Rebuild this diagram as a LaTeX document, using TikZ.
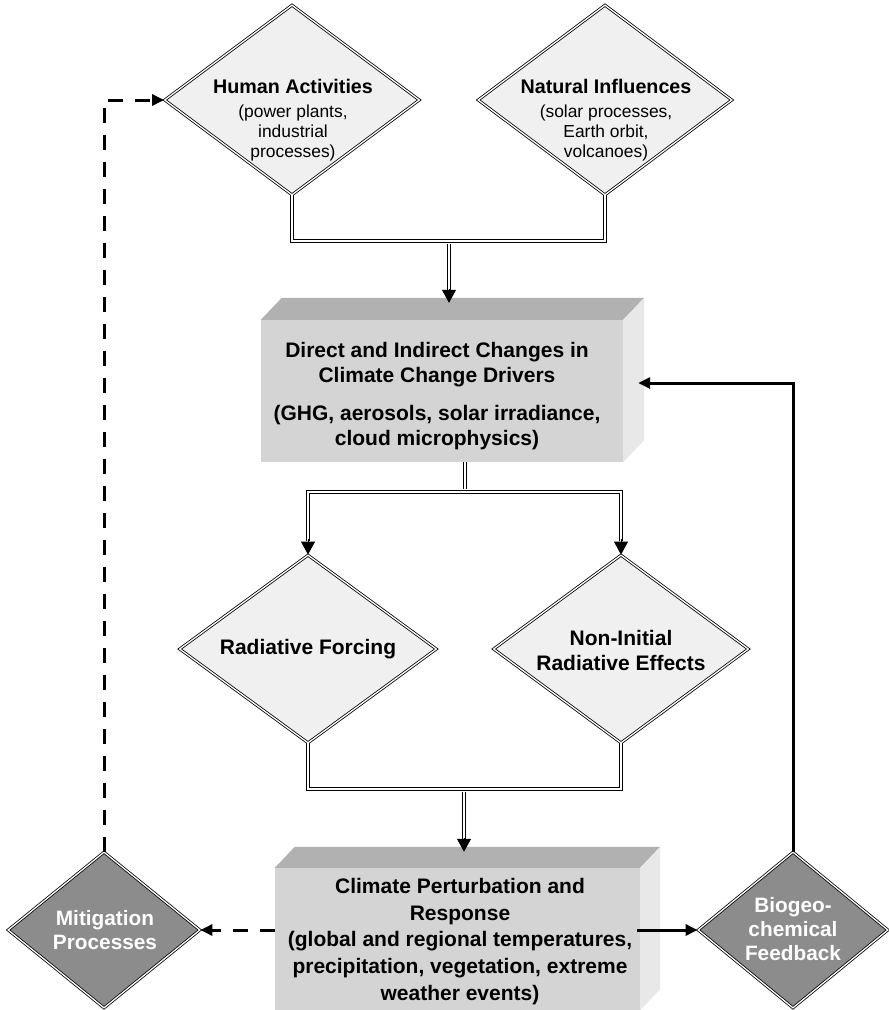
\documentclass[tikz,border=0pt]{standalone}
\usepackage{fontspec}
\setmainfont{Liberation Sans}
\usetikzlibrary{shapes.geometric,arrows.meta,calc}
\definecolor{lightfill}{HTML}{F0F0F0}
\definecolor{darkfill}{HTML}{8C8C8C}
\definecolor{frontfill}{HTML}{D4D4D4}
\definecolor{topfill}{HTML}{B1B1B1}
\definecolor{sidefill}{HTML}{E8E8E8}
\begin{document}
\begin{tikzpicture}[x=1pt,y=-1pt,
  dia/.style={diamond, draw=black, double=white, double distance=1.3pt, line width=0.8pt, inner sep=0pt},
  lightdia/.style={dia, fill=lightfill},
  darkdia/.style={dia, fill=darkfill},
  frontbox/.style={rectangle, fill=frontfill, inner sep=0pt},
  dbl/.style={draw, double=white, double distance=1.5pt, line width=1pt},
  dbltip/.style={-{Triangle[length=13pt,width=14pt]}, line width=1pt},
  arr/.style={line width=3pt, -{Triangle[length=12pt,width=11pt]}},
  dsh/.style={arr, dash pattern=on 15pt off 12pt},
  boxtext/.style={align=center, inner sep=0pt, font=\fontsize{21pt}{25pt}\selectfont\bfseries},
  diatext/.style={align=center, inner sep=0pt, font=\fontsize{21pt}{25pt}\selectfont\bfseries},
  subtext/.style={align=center, inner sep=0pt, font=\fontsize{17.4pt}{19.8pt}\selectfont},
  whitetext/.style={align=center, inner sep=0pt, text=white, font=\fontsize{20.8pt}{24.5pt}\selectfont\bfseries}
]
\useasboundingbox (0,0) rectangle (889,1010);

% top diamonds
\node[lightdia, minimum width=255pt, minimum height=190pt] (ha) at (292,100) {};
\node[lightdia, minimum width=254pt, minimum height=190pt] (ni) at (605,100) {};
\node[subtext] (hat) at (293,120) {{\fontsize{19.7pt}{24pt}\selectfont\bfseries Human Activities}\\[4pt](power plants,\\industrial\\processes)};
\node[subtext] (nit) at (606,120) {{\fontsize{19.7pt}{24pt}\selectfont\bfseries Natural Influences}\\[4pt](solar processes,\\Earth orbit,\\volcanoes)};

% box 1
\node[frontbox, minimum width=362pt, minimum height=142pt] (b1) at (442,391) {};
\fill[topfill] (b1.north west) -- ($(b1.north west)+(21,-22)$) -- ($(b1.north east)+(21,-22)$) -- (b1.north east) -- cycle;
\fill[sidefill] (b1.north east) -- ($(b1.north east)+(21,-22)$) -- ($(b1.south east)+(21,-22)$) -- (b1.south east) -- cycle;
\node[boxtext] (b1t) at (437,396) {Direct and Indirect Changes in\\Climate Change Drivers\\[13pt](GHG, aerosols, solar irradiance,\\cloud microphysics)};

% middle diamonds
\node[lightdia, minimum width=257pt, minimum height=188pt] (rf) at (308,649) {};
\node[lightdia, minimum width=255pt, minimum height=188pt] (nr) at (621,649) {};
\node[diatext] (rft) at (308,649) {Radiative Forcing};
\node[diatext] (nrt) at (621,650) {Non-Initial\\Radiative Effects};

% box 2
\node[frontbox, minimum width=365pt, minimum height=142pt] (b2) at (457.5,939) {};
\fill[topfill] (b2.north west) -- ($(b2.north west)+(20,-21)$) -- ($(b2.north east)+(20,-21)$) -- (b2.north east) -- cycle;
\fill[sidefill] (b2.north east) -- ($(b2.north east)+(20,-21)$) -- ($(b2.south east)+(20,-21)$) -- (b2.south east) -- cycle;
\node[boxtext, font=\fontsize{21pt}{26.7pt}\selectfont\bfseries] (b2t) at (460,941.5) {Climate Perturbation and\\Response\\(global and regional temperatures,\\precipitation, vegetation, extreme\\weather events)};

% bottom diamonds
\node[darkdia, minimum width=192pt, minimum height=156pt] (mp) at (104,930) {};
\node[darkdia, minimum width=190pt, minimum height=156pt] (bf) at (793,930) {};
\node[whitetext] (mpt) at (105,930) {Mitigation\\Processes};
\node[whitetext, font=\fontsize{20.8pt}{24pt}\selectfont\bfseries] (bft) at (793,929) {Biogeo-\\chemical\\Feedback};

% junction coordinates
\coordinate (j1) at (449,241);
\coordinate (j2) at (465,492);
\coordinate (j3) at (464,789);

% top merge
\draw[dbl] (ha.south) -- (ha.south |- j1) -- (ni.south |- j1) -- (ni.south);
\draw[dbl] ($(j1)+(0,2.6)$) -- ($(j1 |- b1.north)+(0,-29)$);
\draw[dbltip] ($(j1 |- b1.north)+(0,-31)$) -- ($(j1 |- b1.north)+(0,-17)$);

% split to middle diamonds
\draw[dbl] (b1.south -| j2) -- ($(j2)+(0,-2.6)$);
\draw[dbl] (rf.north) ++(0,-14) -- (rf.north |- j2) -- (nr.north |- j2) -- ($(nr.north)+(0,-14)$);
\draw[dbltip] ($(rf.north)+(0,-16)$) -- (rf.north);
\draw[dbltip] ($(nr.north)+(0,-16)$) -- (nr.north);

% bottom merge
\draw[dbl] (rf.south) -- (rf.south |- j3) -- (nr.south |- j3) -- (nr.south);
\draw[dbl] ($(j3)+(0,2.6)$) -- ($(j3 |- b2.north)+(0,-28)$);
\draw[dbltip] ($(j3 |- b2.north)+(0,-30)$) -- ($(j3 |- b2.north)+(0,-16)$);

% side loops
\draw[dsh] (b2.west |- mp.east) -- (mp.east);
\draw[dsh] (mp.north) |- (ha.west);
\draw[arr] ($(b2.east)+(-3,-9)$) -- (bf.west);
\draw[arr] (bf.north) |- ($(b1.east)+(15,-8)$);
\end{tikzpicture}
\end{document}
